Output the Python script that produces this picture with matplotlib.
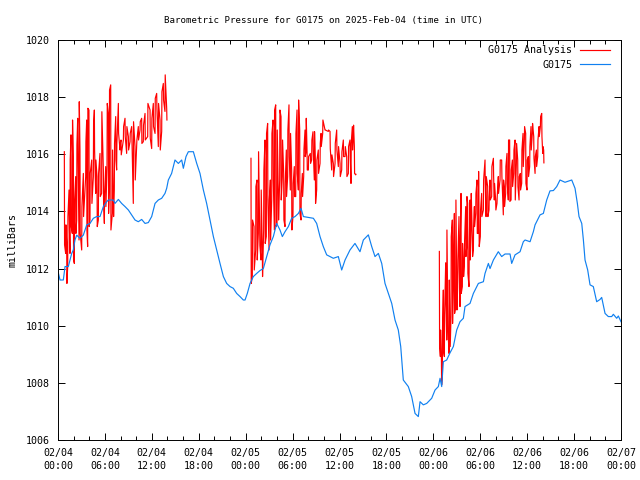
import matplotlib
matplotlib.use("Agg")
import matplotlib.pyplot as plt

FONT = "DejaVu Sans Mono"
RED = "#ff0000"
BLUE = "#1080f0"

# station trace: hours since 2025-02-04 00:00 UTC, millibars
obs_hours = [0.0, 0.26, 0.68, 0.9, 1.32, 1.75, 1.96, 2.17, 2.39, 2.81, 3.24, 3.67, 4.09, 4.52, 4.94, 5.37,
             5.8, 6.22, 6.44, 7.08, 7.29, 7.72, 8.14, 8.57, 9.0, 9.42, 9.85, 10.27, 10.7, 11.13, 11.55, 11.98,
             12.41, 12.83, 13.26, 13.68, 13.9, 14.11, 14.53, 14.96, 15.39, 15.82, 16.03, 16.37, 16.67, 17.31,
             17.74, 18.16, 18.59, 19.01, 19.44, 19.87, 20.29, 20.72, 21.15, 21.57, 22.0, 22.42, 22.85, 23.28,
             23.7, 23.92, 24.21, 24.56, 24.98, 25.41, 25.83, 26.26, 26.69, 27.11, 27.54, 27.97, 28.39, 28.69,
             29.03, 29.46, 29.88, 30.31, 30.74, 31.08, 31.38, 32.66, 33.08, 33.51, 33.93, 34.36, 34.79, 35.21,
             35.85, 36.28, 36.71, 37.34, 37.98, 38.62, 39.05, 39.69, 40.12, 40.54, 40.97, 41.4, 41.82, 42.25,
             42.68, 43.1, 43.52, 43.83, 44.16, 44.8, 45.23, 45.66, 46.08, 46.3, 46.72, 47.15, 47.79, 48.22,
             48.64, 48.86, 49.07, 49.28, 49.71, 50.13, 50.56, 50.99, 51.41, 51.84, 52.05, 52.69, 53.12, 53.76,
             54.4, 54.61, 55.04, 55.25, 55.68, 56.31, 56.74, 57.17, 57.81, 58.02, 58.45, 59.09, 59.51, 59.73,
             60.37, 60.79, 61.01, 61.65, 62.07, 62.5, 62.92, 63.35, 63.78, 64.2, 64.84, 65.7, 66.12, 66.42,
             66.63, 66.98, 67.19, 67.4, 67.74, 68.04, 68.46, 68.89, 69.32, 69.53, 69.96, 70.38, 70.81, 71.02,
             71.45, 71.66, 72.0]
obs_mb = [1011.9, 1011.6, 1011.6, 1012.07, 1012.07, 1012.53, 1012.65, 1013.0, 1013.17, 1013.06, 1013.17,
          1013.53, 1013.58, 1013.76, 1013.82, 1013.82, 1014.17, 1014.34, 1014.4, 1014.4, 1014.28, 1014.42,
          1014.28, 1014.17, 1014.05, 1013.88, 1013.7, 1013.64, 1013.72, 1013.58, 1013.61, 1013.82, 1014.28,
          1014.4, 1014.46, 1014.63, 1014.81, 1015.1, 1015.33, 1015.8, 1015.68, 1015.8, 1015.51, 1015.92,
          1016.09, 1016.09, 1015.68, 1015.33, 1014.75, 1014.28, 1013.7, 1013.12, 1012.65, 1012.18, 1011.72,
          1011.48, 1011.37, 1011.31, 1011.13, 1011.02, 1010.9, 1010.9, 1011.13, 1011.48, 1011.72, 1011.83,
          1011.93, 1012.0, 1012.42, 1012.83, 1013.12, 1013.58, 1013.35, 1013.12, 1013.29, 1013.47, 1013.76,
          1013.82, 1013.93, 1014.11, 1013.82, 1013.76, 1013.58, 1013.12, 1012.77, 1012.48, 1012.42, 1012.36,
          1012.42, 1011.95, 1012.3, 1012.65, 1012.88, 1012.59, 1013.0, 1013.18, 1012.77, 1012.42, 1012.53,
          1012.18, 1011.48, 1011.13, 1010.78, 1010.2, 1009.85, 1009.27, 1008.1, 1007.87, 1007.52, 1006.93,
          1006.82, 1007.34, 1007.23, 1007.28, 1007.46, 1007.75, 1007.87, 1008.16, 1007.87, 1008.74, 1008.8,
          1009.05, 1009.27, 1009.85, 1010.14, 1010.26, 1010.67, 1010.78, 1011.13, 1011.48, 1011.54, 1011.83,
          1012.18, 1012.0, 1012.3, 1012.59, 1012.42, 1012.51, 1012.51, 1012.18, 1012.48, 1012.59, 1012.94,
          1013.0, 1012.94, 1013.29, 1013.53, 1013.88, 1013.93, 1014.4, 1014.72, 1014.73, 1014.87, 1015.1,
          1015.02, 1015.1, 1014.81, 1014.28, 1013.82, 1013.58, 1013.0, 1012.3, 1011.95, 1011.43, 1011.37,
          1010.84, 1010.92, 1010.99, 1010.43, 1010.32, 1010.32, 1010.4, 1010.26, 1010.34, 1010.14]

# analysis runs: each stroke has a time, an upper and a lower value
ana1_hours = [0.81, 0.98, 1.11, 1.24, 1.41, 1.53, 1.66, 1.83, 1.96, 2.09, 2.26, 2.39, 2.52, 2.69, 2.81, 3.03,
              3.24, 3.54, 3.67, 3.79, 3.96, 4.09, 4.31, 4.52, 4.65, 4.82, 4.99, 5.16, 5.37, 5.58, 5.8, 5.93,
              6.1, 6.27, 6.44, 6.56, 6.74, 6.95, 7.08, 7.2, 7.38, 7.5, 7.72, 7.93, 8.06, 8.36, 8.57, 8.78,
              9.0, 9.21, 9.42, 9.63, 9.85, 10.06, 10.27, 10.49, 10.7, 10.91, 11.13, 11.47, 11.77, 11.98,
              12.19, 12.41, 12.62, 12.83, 13.05, 13.26, 13.47, 13.68, 13.9]
ana1_high = [1016.09, 1013.53, 1012.88, 1013.82, 1014.75, 1015.8, 1016.68, 1017.2, 1015.92, 1014.4, 1015.22,
             1016.33, 1017.26, 1017.84, 1016.15, 1014.17, 1015.33, 1016.44, 1017.2, 1017.61, 1017.55, 1015.33,
             1015.8, 1017.08, 1017.55, 1015.8, 1015.22, 1015.33, 1016.03, 1017.49, 1015.45, 1014.63, 1015.57,
             1017.78, 1017.43, 1018.25, 1018.43, 1016.15, 1014.28, 1016.38, 1017.32, 1016.38, 1017.78, 1016.38,
             1016.5, 1016.97, 1017.26, 1016.97, 1016.62, 1016.73, 1016.97, 1017.14, 1016.27, 1016.5, 1016.97,
             1017.14, 1017.26, 1017.02, 1017.43, 1017.78, 1017.55, 1017.26, 1017.78, 1017.96, 1018.13, 1017.78,
             1017.2, 1018.19, 1018.48, 1018.78, 1017.6]
ana1_low = [1012.83, 1012.53, 1011.48, 1012.07, 1013.82, 1012.53, 1013.47, 1013.23, 1012.3, 1012.18, 1013.23,
            1013.7, 1016.15, 1013.0, 1013.23, 1012.65, 1013.82, 1015.22, 1013.35, 1012.77, 1013.47, 1013.7,
            1014.28, 1015.22, 1016.15, 1014.63, 1013.47, 1013.7, 1014.52, 1014.63, 1014.28, 1013.58, 1014.17,
            1015.57, 1013.93, 1014.69, 1013.35, 1013.93, 1013.82, 1014.75, 1015.8, 1015.45, 1016.73, 1016.15,
            1015.98, 1016.5, 1016.62, 1016.03, 1016.15, 1016.44, 1016.62, 1014.28, 1015.1, 1016.27, 1016.5,
            1016.85, 1016.38, 1016.44, 1016.5, 1016.62, 1016.56, 1016.2, 1016.97, 1016.73, 1017.61, 1016.27,
            1016.15, 1016.8, 1017.9, 1017.5, 1017.2]

ana2_hours = [24.68, 24.85, 25.07, 25.28, 25.45, 25.62, 25.79, 25.96, 26.13, 26.3, 26.47, 26.64, 26.81, 26.99,
              27.16, 27.33, 27.5, 27.67, 27.84, 28.01, 28.18, 28.35, 28.52, 28.69, 28.86, 29.03, 29.2, 29.37,
              29.54, 29.71, 29.88, 30.05, 30.22, 30.4, 30.57, 30.74, 30.91, 31.08, 31.25, 31.42, 31.59, 31.72,
              31.85, 32.02, 32.27, 32.44, 32.61, 32.78, 32.91, 33.08, 33.29, 33.51, 33.64, 33.85, 34.15, 34.57,
              34.79, 35.0, 35.21, 35.43, 35.64, 35.85, 36.07, 36.28, 36.49, 36.71, 36.92, 37.13, 37.34, 37.47,
              37.64, 37.77, 37.9, 38.07]
ana2_high = [1015.86, 1013.7, 1013.47, 1014.87, 1015.1, 1016.09, 1013.58, 1014.75, 1012.65, 1015.45, 1016.5,
             1016.73, 1017.08, 1014.4, 1015.1, 1016.73, 1017.2, 1017.55, 1017.73, 1016.85, 1014.52, 1017.55,
             1017.32, 1016.5, 1015.33, 1014.98, 1016.15, 1016.85, 1017.73, 1016.73, 1015.45, 1014.98, 1015.57,
             1016.73, 1017.55, 1017.9, 1016.85, 1014.63, 1015.33, 1016.15, 1016.85, 1017.26, 1016.09, 1015.92,
             1016.03, 1016.5, 1016.79, 1016.79, 1015.8, 1015.8, 1016.15, 1016.38, 1016.73, 1017.2, 1016.85,
             1016.85, 1016.8, 1015.98, 1015.68, 1016.38, 1016.85, 1016.27, 1015.68, 1016.09, 1016.5, 1016.27,
             1015.92, 1016.27, 1016.5, 1016.38, 1016.97, 1017.02, 1016.27, 1015.3]
ana2_low = [1011.48, 1011.72, 1011.95, 1012.65, 1012.3, 1013.23, 1012.8, 1012.3, 1011.72, 1013.35, 1012.88,
            1013.12, 1014.4, 1012.65, 1013.0, 1014.4, 1015.1, 1013.35, 1013.47, 1013.58, 1013.7, 1015.1,
            1014.4, 1015.22, 1013.7, 1013.47, 1014.52, 1015.22, 1015.92, 1014.75, 1013.35, 1013.82, 1014.52,
            1014.52, 1015.33, 1014.75, 1013.93, 1013.7, 1014.52, 1015.22, 1015.92, 1016.09, 1015.45, 1015.45,
            1015.68, 1015.8, 1016.15, 1015.1, 1014.28, 1014.75, 1015.33, 1015.68, 1016.27, 1016.73, 1016.85,
            1016.8, 1016.2, 1015.45, 1015.22, 1015.68, 1016.15, 1015.57, 1015.22, 1015.45, 1015.92, 1015.92,
            1015.22, 1015.33, 1015.92, 1014.98, 1016.15, 1016.73, 1015.33, 1015.28]

ana3_hours = [48.77, 48.9, 49.03, 49.15, 49.28, 49.41, 49.58, 49.71, 49.84, 50.01, 50.13, 50.26, 50.43, 50.56,
              50.69, 50.86, 50.99, 51.11, 51.28, 51.41, 51.54, 51.71, 51.84, 51.97, 52.14, 52.27, 52.39, 52.56,
              52.69, 52.82, 52.99, 53.12, 53.25, 53.42, 53.59, 53.76, 53.84, 54.01, 54.18, 54.4, 54.61, 54.74,
              54.95, 55.12, 55.25, 55.46, 55.68, 55.8, 55.97, 56.14, 56.31, 56.53, 56.74, 56.95, 57.08, 57.25,
              57.42, 57.59, 57.76, 57.94, 58.11, 58.28, 58.45, 58.62, 58.79, 58.96, 59.13, 59.3, 59.47, 59.64,
              59.81, 59.98, 60.15, 60.32, 60.49, 60.66, 60.84, 61.01, 61.18, 61.35, 61.52, 61.69, 61.86, 61.99,
              62.11]
ana3_high = [1012.6, 1009.85, 1008.92, 1009.97, 1011.25, 1010.4, 1012.2, 1013.35, 1010.67, 1011.6, 1009.85,
             1013.12, 1013.7, 1012.53, 1013.93, 1014.4, 1011.13, 1012.3, 1013.82, 1013.0, 1014.63, 1012.88,
             1012.18, 1013.0, 1014.17, 1014.52, 1014.28, 1012.65, 1014.4, 1014.63, 1013.0, 1013.47, 1014.17,
             1014.63, 1015.1, 1015.4, 1013.93, 1014.05, 1014.63, 1015.1, 1015.8, 1015.22, 1014.87, 1014.52,
             1015.1, 1015.57, 1015.86, 1014.98, 1014.4, 1014.52, 1015.22, 1015.8, 1015.8, 1015.1, 1014.87,
             1015.57, 1016.03, 1016.5, 1016.5, 1015.45, 1015.8, 1016.15, 1016.5, 1016.38, 1015.8, 1015.22,
             1015.33, 1016.15, 1016.73, 1016.97, 1016.73, 1015.8, 1015.92, 1016.27, 1016.97, 1017.08, 1016.62,
             1015.92, 1016.15, 1016.5, 1016.97, 1017.32, 1017.43, 1016.27, 1016.15]
ana3_low = [1009.27, 1008.92, 1007.93, 1008.2, 1009.1, 1008.92, 1010.9, 1009.5, 1009.85, 1009.03, 1009.27,
            1010.32, 1010.08, 1011.37, 1010.43, 1010.67, 1010.55, 1011.37, 1012.07, 1010.67, 1011.13, 1011.37,
            1011.72, 1012.07, 1012.42, 1012.77, 1011.83, 1011.37, 1012.3, 1013.47, 1012.42, 1012.65, 1013.47,
            1013.93, 1013.23, 1013.23, 1012.77, 1013.12, 1013.82, 1014.05, 1014.98, 1013.82, 1013.82, 1014.05,
            1014.4, 1014.52, 1015.22, 1014.4, 1014.05, 1014.28, 1014.63, 1015.1, 1015.22, 1013.88, 1014.17,
            1014.63, 1014.98, 1014.4, 1014.35, 1014.4, 1014.87, 1015.33, 1014.4, 1015.68, 1014.87, 1014.4,
            1014.75, 1014.98, 1015.57, 1016.5, 1014.98, 1014.75, 1015.22, 1015.57, 1016.15, 1016.73, 1015.86,
            1015.33, 1015.57, 1015.92, 1016.62, 1016.97, 1016.62, 1016.03, 1015.7]

tick_hours = [0, 6, 12, 18, 24, 30, 36, 42, 48, 54, 60, 66, 72]
tick_labels = ["02/04\n00:00", "02/04\n06:00", "02/04\n12:00", "02/04\n18:00",
               "02/05\n00:00", "02/05\n06:00", "02/05\n12:00", "02/05\n18:00",
               "02/06\n00:00", "02/06\n06:00", "02/06\n12:00", "02/06\n18:00",
               "02/07\n00:00"]


def zigzag(hours, high, low):
    """One path through the strokes: down on one, up on the next."""
    t, v = [], []
    for i, (h, hi, lo) in enumerate(zip(hours, high, low)):
        t += [h, h + 0.03]
        v += [hi, lo] if i % 2 == 0 else [lo, hi]
    return t, v


fig = plt.figure(figsize=(6.4, 4.8), dpi=100)
ax = fig.add_axes([58 / 640, 40 / 480, 563 / 640, 400 / 480])

runs = [(ana1_hours, ana1_high, ana1_low), (ana2_hours, ana2_high, ana2_low), (ana3_hours, ana3_high, ana3_low)]
for i, (h, hi, lo) in enumerate(runs):
    t, v = zigzag(h, hi, lo)
    ax.plot(t, v, color=RED, linewidth=0.85, label="G0175 Analysis" if i == 0 else None)
ax.plot(obs_hours, obs_mb, color=BLUE, linewidth=0.85, label="G0175")

ax.set_xlim(0, 72)
ax.set_ylim(1006, 1020)
ax.set_xticks(tick_hours)
ax.set_xticklabels(tick_labels, fontfamily=FONT, fontsize=7.2, linespacing=1.3)
ax.set_xticks(range(0, 73, 2), minor=True)
ax.set_yticks(range(1006, 1021, 2))
for lab in ax.get_yticklabels():
    lab.set_fontfamily(FONT)
    lab.set_fontsize(7.2)
ax.tick_params(which="both", direction="in", top=True, right=True, color="black", width=0.7)
ax.tick_params(which="major", length=5, pad=6)
ax.tick_params(which="minor", length=3)
for spine in ax.spines.values():
    spine.set_linewidth(0.7)

ax.set_ylabel("milliBars", fontfamily=FONT, fontsize=7.2)
ax.yaxis.set_label_coords(-0.072, 0.5)
fig.text(324 / 640, 1 - 20 / 480, "Barometric Pressure for G0175 on 2025-Feb-04 (time in UTC)",
         ha="center", va="center", fontfamily=FONT, fontsize=6.6)

ax.legend(loc="upper right", bbox_to_anchor=(0.993, 1.005), frameon=False, markerfirst=False,
          handlelength=3.0, prop={"family": FONT, "size": 7.2}, labelspacing=0.45,
          borderaxespad=0.3, handletextpad=0.8)

fig.savefig("out.png", dpi=100)
